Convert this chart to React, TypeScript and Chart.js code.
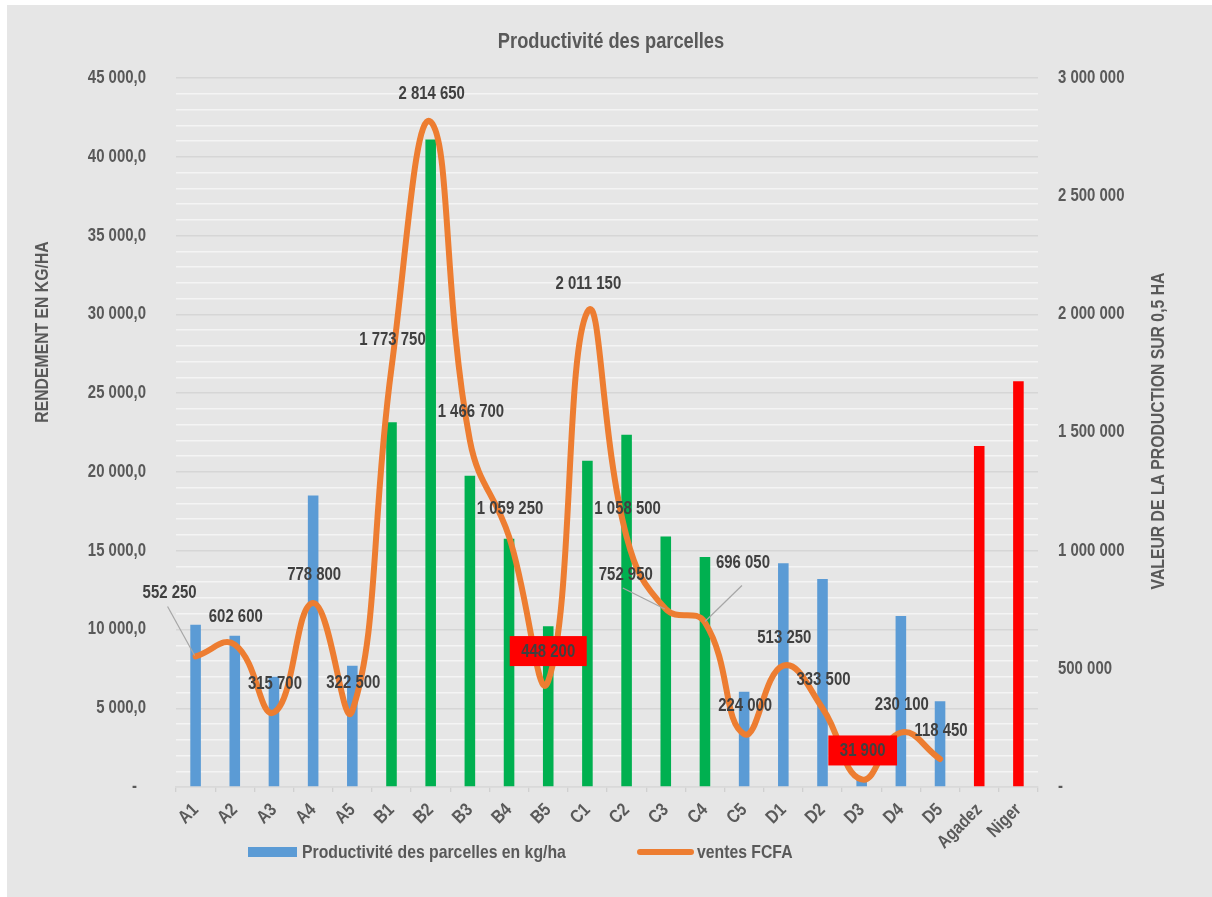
import React, { useEffect, useRef } from 'react';
import { Chart, registerables } from 'chart.js';

Chart.register(...registerables);

// ---------- data ----------
const categories = ['A1', 'A2', 'A3', 'A4', 'A5', 'B1', 'B2', 'B3', 'B4', 'B5', 'C1', 'C2', 'C3', 'C4', 'C5', 'D1', 'D2', 'D3', 'D4', 'D5', 'Agadez', 'Niger'];
const productivite = [10300, 9600, 7000, 18500, 7700, 23150, 41100, 19750, 15750, 10200, 20700, 22350, 15900, 14600, 6050, 14200, 13200, 600, 10850, 5450, 21650, 25750];
const ventes: (number | null)[] = [552250, 602600, 315700, 778800, 322500, 1773750, 2814650, 1466700, 1059250, 448200, 2011150, 1058500, 752950, 696050, 224000, 513250, 333500, 31900, 230100, 118450, null, null];
const leftAxisMax = 45000;
const leftMajorStep = 5000;
const leftMinorStep = 1000;
const rightAxisMax = 3000000;
const rightStep = 500000;

const chartTitle = 'Productivité des parcelles';
const leftTitle = 'RENDEMENT EN KG/HA';
const rightTitle = 'VALEUR DE LA PRODUCTION SUR 0,5 HA';
const barLegend = 'Productivité des parcelles en kg/ha';
const lineLegend = 'ventes FCFA';

// ---------- styles ----------
const FONT = "'Liberation Sans', Arial, sans-serif";
const S = 0.83; // horizontal condensing of text (narrow face emulation)
const BG = '#E6E6E6';
const BLUE = '#5B9BD5';
const GREEN = '#00B050';
const RED = '#FF0000';
const ORANGE = '#ED7D31';
const TICK_COLOR = '#595959';
const LABEL_COLOR = '#404040';
const barColorKeys = ['b', 'b', 'b', 'b', 'b', 'g', 'g', 'g', 'g', 'g', 'g', 'g', 'g', 'g', 'b', 'b', 'b', 'b', 'b', 'b', 'r', 'r'];
const colorMap: Record<string, string> = { b: BLUE, g: GREEN, r: RED };

// label placement relative to the point (pixels)
const DEFAULT_OFFSET: [number, number] = [1, -29];
const specialOffsets: Record<number, [number, number]> = { 0: [-26, -64], 12: [-40, -35], 13: [38, -60], 9: [0, -30] };
const leaders: Record<number, [[number, number], [number, number]]> = {
  0: [[-28, -50], [-1, -1]],
  12: [[-43, -21], [-1, 0]],
  13: [[37, -37], [0, -1]],
};
const boxed = new Set([9, 17]);

const fmt = (v: number) => Math.round(v).toString().replace(/\B(?=(\d{3})+(?!\d))/g, ' ');

type TOpts = { size: number; color: string; align?: CanvasTextAlign; rot?: number };
function narrowText(ctx: CanvasRenderingContext2D, text: string, x: number, y: number, o: TOpts) {
  ctx.save();
  ctx.translate(x, y);
  if (o.rot) ctx.rotate(o.rot);
  ctx.scale(S, 1);
  ctx.font = `bold ${o.size}px ${FONT}`;
  ctx.textAlign = o.align ?? 'center';
  ctx.textBaseline = 'middle';
  ctx.fillStyle = o.color;
  ctx.fillText(text, 0, 0);
  ctx.restore();
}
function narrowWidth(ctx: CanvasRenderingContext2D, text: string, size: number) {
  ctx.save();
  ctx.font = `bold ${size}px ${FONT}`;
  const w = ctx.measureText(text).width * S;
  ctx.restore();
  return w;
}

const labelPlugin = {
  id: 'valueLabels',
  afterDatasetsDraw(chart: any) {
    const meta = chart.getDatasetMeta(1);
    const ctx = chart.ctx as CanvasRenderingContext2D;
    meta.data.forEach((pt: any, i: number) => {
      const v = ventes[i];
      if (v == null || !isFinite(pt.y)) return;
      const [dx, dy] = specialOffsets[i] ?? DEFAULT_OFFSET;
      const x = pt.x + dx;
      const y = pt.y + dy;
      const text = fmt(v);
      const ld = leaders[i];
      if (ld) {
        ctx.save();
        ctx.strokeStyle = '#A6A6A6';
        ctx.lineWidth = 1.2;
        ctx.beginPath();
        ctx.moveTo(pt.x + ld[0][0], pt.y + ld[0][1]);
        ctx.lineTo(pt.x + ld[1][0], pt.y + ld[1][1]);
        ctx.stroke();
        ctx.restore();
      }
      if (boxed.has(i)) {
        const w = narrowWidth(ctx, text, 18) + 23;
        ctx.save();
        ctx.fillStyle = RED;
        ctx.fillRect(x - w / 2, y - 15, w, 30);
        ctx.restore();
      }
      narrowText(ctx, text, x, y + 1, { size: 18, color: LABEL_COLOR });
    });
  },
};

const decorPlugin = {
  id: 'decor',
  beforeDraw(chart: any) {
    const ctx = chart.ctx as CanvasRenderingContext2D;
    ctx.save();
    ctx.fillStyle = BG;
    ctx.fillRect(0, 0, chart.width, chart.height);
    ctx.restore();
  },
  afterDraw(chart: any) {
    const ctx = chart.ctx as CanvasRenderingContext2D;
    const { x, y, y1 } = chart.scales;
    const area = chart.chartArea;
    // axis tick labels (from the library's scales)
    y.ticks.forEach((t: any) => {
      if (t.value % leftMajorStep !== 0) return;
      const py = y.getPixelForValue(t.value);
      if (t.value === 0) narrowText(ctx, '-', area.left - 39, py, { size: 18, color: TICK_COLOR, align: 'right' });
      else narrowText(ctx, fmt(t.value) + ',0', area.left - 30, py, { size: 18, color: TICK_COLOR, align: 'right' });
    });
    y1.ticks.forEach((t: any) => {
      const py = y1.getPixelForValue(t.value);
      narrowText(ctx, t.value === 0 ? '-' : fmt(t.value), area.right + 20, py, { size: 18, color: TICK_COLOR, align: 'left' });
    });
    categories.forEach((c, i) => {
      const px = x.getPixelForTick(i);
      narrowText(ctx, c, px, area.bottom + 20, { size: 18.5, color: TICK_COLOR, align: 'right', rot: -Math.PI / 4 });
    });
    // title
    narrowText(ctx, chartTitle, 604, 37, { size: 22, color: TICK_COLOR });
    // axis titles
    narrowText(ctx, leftTitle, 36, 327, { size: 19, color: TICK_COLOR, rot: -Math.PI / 2 });
    narrowText(ctx, rightTitle, 1152, 426, { size: 19, color: TICK_COLOR, rot: -Math.PI / 2 });
    // legend
    ctx.save();
    ctx.fillStyle = BLUE;
    ctx.fillRect(241, 842, 49, 10);
    ctx.strokeStyle = ORANGE;
    ctx.lineWidth = 6;
    ctx.lineCap = 'round';
    ctx.beginPath();
    ctx.moveTo(633, 847);
    ctx.lineTo(684, 847);
    ctx.stroke();
    ctx.restore();
    narrowText(ctx, barLegend, 295, 848, { size: 19, color: TICK_COLOR, align: 'left' });
    narrowText(ctx, lineLegend, 690, 848, { size: 19, color: TICK_COLOR, align: 'left' });
  },
};

export default function App() {
  const ref = useRef<HTMLCanvasElement | null>(null);
  useEffect(() => {
    if (!ref.current) return;
    const chart = new Chart(ref.current, {
      type: 'bar',
      data: {
        labels: categories,
        datasets: [
          {
            type: 'bar',
            label: barLegend,
            data: productivite,
            backgroundColor: barColorKeys.map((k) => colorMap[k]),
            barPercentage: 0.27,
            categoryPercentage: 1,
            yAxisID: 'y',
            order: 1,
          },
          {
            type: 'line',
            label: lineLegend,
            data: ventes,
            borderColor: ORANGE,
            borderWidth: 6,
            tension: 0.45,
            pointRadius: 0,
            borderCapStyle: 'round',
            borderJoinStyle: 'round',
            yAxisID: 'y1',
            order: 0,
          } as any,
        ],
      },
      options: {
        responsive: false,
        animation: false,
        devicePixelRatio: 1,
        layout: { padding: { top: 73, left: 0, right: 0, bottom: 0 } },
        plugins: { legend: { display: false }, title: { display: false }, tooltip: { enabled: false } },
        scales: {
          x: {
            grid: { offset: true, drawOnChartArea: false, drawTicks: true, tickLength: 5, color: '#D0D0D0', lineWidth: 1.3 },
            border: { color: '#D9D9D9', width: 1.5 },
            ticks: { display: false, autoSkip: false },
            afterFit(scale: any) { scale.height = 110; },
          },
          y: {
            position: 'left',
            min: 0,
            max: leftAxisMax,
            border: { display: false },
            grid: {
              drawTicks: false,
              color: (c: any) => (c.tick && c.tick.value % leftMajorStep === 0 ? '#D6D6D6' : '#F4F4F4'),
              lineWidth: 1.4,
            },
            ticks: { display: false, stepSize: leftMinorStep, autoSkip: false },
            afterFit(scale: any) { scale.width = 169; },
          },
          y1: {
            position: 'right',
            min: 0,
            max: rightAxisMax,
            border: { display: false },
            grid: { display: false, drawTicks: false },
            ticks: { display: false, stepSize: rightStep },
            afterFit(scale: any) { scale.width = 174; },
          },
        },
      } as any,
      plugins: [decorPlugin, labelPlugin],
    });
    return () => chart.destroy();
  }, []);
  return (
    <div style={{ position: 'absolute', left: 7, top: 5, width: 1205, height: 892 }}>
      <canvas ref={ref} width={1205} height={892} style={{ display: 'block', width: 1205, height: 892 }} />
    </div>
  );
}
